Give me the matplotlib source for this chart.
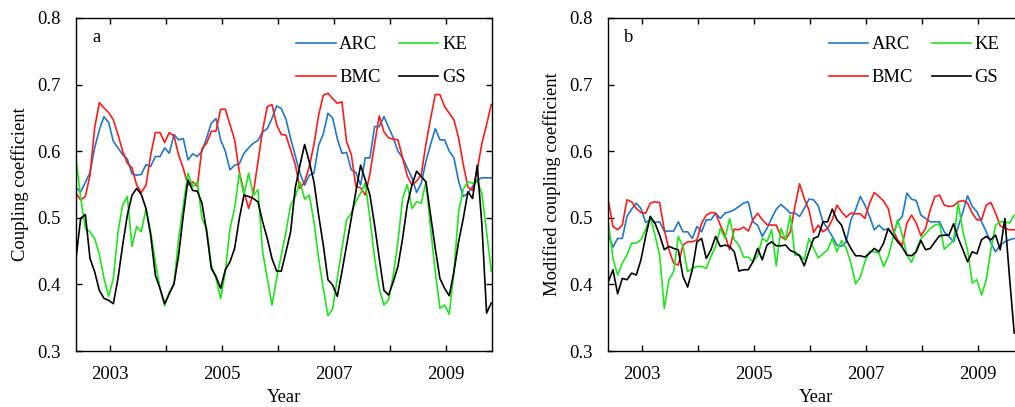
import numpy as np
import matplotlib
matplotlib.use('Agg')
import matplotlib.pyplot as plt
from matplotlib.ticker import MultipleLocator, FixedLocator, FormatStrFormatter

plt.rcParams['font.family'] = ['Liberation Serif', 'DejaVu Serif']
plt.rcParams['font.size'] = 13.4

### monthly values, first month at 2002.4
start_year = 2002.4

arc_a = [0.545, 0.539, 0.553, 0.568, 0.605, 0.632, 0.652, 0.643, 0.615, 0.605,
         0.595, 0.588, 0.566, 0.564, 0.565, 0.580, 0.577, 0.592, 0.592, 0.605,
         0.597, 0.625, 0.617, 0.619, 0.587, 0.596, 0.592, 0.600, 0.620, 0.642,
         0.649, 0.617, 0.600, 0.572, 0.579, 0.581, 0.597, 0.605, 0.612, 0.616,
         0.629, 0.634, 0.649, 0.668, 0.664, 0.648, 0.619, 0.593, 0.567, 0.549,
         0.564, 0.567, 0.609, 0.626, 0.657, 0.650, 0.619, 0.597, 0.598, 0.572,
         0.568, 0.549, 0.590, 0.590, 0.637, 0.637, 0.652, 0.636, 0.620, 0.600,
         0.590, 0.575, 0.560, 0.538, 0.552, 0.585, 0.610, 0.634, 0.617, 0.617,
         0.600, 0.590, 0.555, 0.532, 0.537, 0.547, 0.557, 0.560, 0.560, 0.560]
bmc_a = [0.537, 0.527, 0.532, 0.564, 0.635, 0.673, 0.665, 0.658, 0.647, 0.625,
         0.600, 0.582, 0.575, 0.549, 0.538, 0.549, 0.594, 0.628, 0.628, 0.613,
         0.628, 0.623, 0.594, 0.574, 0.549, 0.554, 0.547, 0.604, 0.612, 0.630,
         0.630, 0.663, 0.663, 0.640, 0.617, 0.569, 0.539, 0.514, 0.537, 0.584,
         0.632, 0.667, 0.670, 0.640, 0.625, 0.624, 0.602, 0.580, 0.544, 0.554,
         0.577, 0.610, 0.654, 0.684, 0.687, 0.679, 0.672, 0.674, 0.614, 0.595,
         0.547, 0.545, 0.534, 0.566, 0.611, 0.653, 0.629, 0.620, 0.618, 0.617,
         0.590, 0.563, 0.549, 0.555, 0.565, 0.611, 0.649, 0.685, 0.685, 0.667,
         0.657, 0.647, 0.620, 0.580, 0.546, 0.541, 0.572, 0.612, 0.640, 0.670]
ke_a = [0.589, 0.530, 0.484, 0.479, 0.469, 0.445, 0.409, 0.382, 0.409, 0.479,
        0.519, 0.532, 0.457, 0.487, 0.479, 0.514, 0.479, 0.434, 0.394, 0.368,
        0.389, 0.399, 0.469, 0.519, 0.567, 0.547, 0.554, 0.499, 0.484, 0.429,
        0.409, 0.379, 0.419, 0.484, 0.514, 0.567, 0.534, 0.567, 0.534, 0.542,
        0.449, 0.409, 0.369, 0.409, 0.444, 0.479, 0.519, 0.532, 0.554, 0.528,
        0.534, 0.494, 0.439, 0.394, 0.353, 0.363, 0.409, 0.454, 0.497, 0.507,
        0.525, 0.537, 0.552, 0.499, 0.439, 0.394, 0.369, 0.377, 0.414, 0.464,
        0.529, 0.550, 0.514, 0.524, 0.522, 0.554, 0.484, 0.419, 0.364, 0.369,
        0.355, 0.419, 0.509, 0.543, 0.554, 0.552, 0.554, 0.537, 0.479, 0.420]
gs_a = [0.439, 0.499, 0.505, 0.439, 0.419, 0.391, 0.379, 0.376, 0.371, 0.409,
        0.459, 0.504, 0.534, 0.544, 0.535, 0.514, 0.474, 0.414, 0.394, 0.371,
        0.386, 0.401, 0.444, 0.504, 0.557, 0.541, 0.540, 0.522, 0.479, 0.424,
        0.412, 0.394, 0.422, 0.434, 0.454, 0.499, 0.534, 0.532, 0.529, 0.524,
        0.494, 0.469, 0.439, 0.420, 0.420, 0.449, 0.479, 0.545, 0.579, 0.610,
        0.584, 0.554, 0.504, 0.459, 0.407, 0.399, 0.382, 0.419, 0.459, 0.499,
        0.540, 0.579, 0.557, 0.534, 0.489, 0.439, 0.391, 0.384, 0.404, 0.427,
        0.469, 0.519, 0.549, 0.570, 0.562, 0.554, 0.504, 0.454, 0.409, 0.394,
        0.383, 0.419, 0.464, 0.499, 0.539, 0.529, 0.579, 0.489, 0.357, 0.372]

arc_b = [0.474, 0.456, 0.469, 0.469, 0.502, 0.513, 0.522, 0.514, 0.493, 0.497,
         0.493, 0.494, 0.480, 0.480, 0.480, 0.494, 0.479, 0.479, 0.469, 0.487,
         0.479, 0.497, 0.497, 0.507, 0.499, 0.507, 0.509, 0.512, 0.517, 0.522,
         0.524, 0.494, 0.489, 0.472, 0.484, 0.499, 0.513, 0.520, 0.514, 0.507,
         0.507, 0.502, 0.514, 0.528, 0.527, 0.518, 0.494, 0.484, 0.472, 0.459,
         0.457, 0.464, 0.497, 0.512, 0.532, 0.519, 0.502, 0.482, 0.489, 0.482,
         0.483, 0.474, 0.494, 0.502, 0.537, 0.528, 0.526, 0.504, 0.499, 0.494,
         0.494, 0.494, 0.479, 0.472, 0.464, 0.487, 0.509, 0.533, 0.517, 0.509,
         0.494, 0.479, 0.462, 0.449, 0.459, 0.464, 0.467, 0.469]
bmc_b = [0.526, 0.487, 0.482, 0.489, 0.527, 0.524, 0.514, 0.508, 0.507, 0.522,
         0.524, 0.523, 0.482, 0.452, 0.432, 0.429, 0.459, 0.464, 0.464, 0.467,
         0.492, 0.504, 0.508, 0.507, 0.489, 0.474, 0.452, 0.483, 0.482, 0.486,
         0.480, 0.497, 0.507, 0.497, 0.490, 0.489, 0.489, 0.472, 0.467, 0.479,
         0.517, 0.551, 0.529, 0.512, 0.478, 0.489, 0.479, 0.484, 0.497, 0.519,
         0.509, 0.501, 0.507, 0.506, 0.506, 0.499, 0.522, 0.538, 0.532, 0.525,
         0.514, 0.482, 0.467, 0.459, 0.492, 0.504, 0.492, 0.473, 0.484, 0.512,
         0.532, 0.534, 0.519, 0.517, 0.518, 0.524, 0.526, 0.522, 0.507, 0.497,
         0.497, 0.519, 0.523, 0.507, 0.488, 0.484, 0.482, 0.482]
ke_b = [0.494, 0.439, 0.414, 0.432, 0.444, 0.462, 0.462, 0.467, 0.482, 0.502,
        0.474, 0.444, 0.364, 0.407, 0.419, 0.472, 0.457, 0.419, 0.424, 0.427,
        0.427, 0.424, 0.442, 0.457, 0.484, 0.469, 0.499, 0.467, 0.459, 0.441,
        0.441, 0.434, 0.443, 0.469, 0.464, 0.482, 0.428, 0.484, 0.467, 0.504,
        0.444, 0.444, 0.437, 0.469, 0.454, 0.440, 0.446, 0.452, 0.469, 0.449,
        0.466, 0.454, 0.432, 0.401, 0.411, 0.434, 0.449, 0.449, 0.447, 0.427,
        0.442, 0.469, 0.497, 0.474, 0.444, 0.433, 0.452, 0.469, 0.476, 0.484,
        0.489, 0.491, 0.453, 0.459, 0.466, 0.522, 0.479, 0.452, 0.402, 0.407,
        0.384, 0.407, 0.452, 0.489, 0.494, 0.494, 0.492, 0.504]
gs_b = [0.404, 0.422, 0.386, 0.409, 0.407, 0.417, 0.414, 0.437, 0.472, 0.502,
        0.492, 0.474, 0.452, 0.457, 0.454, 0.452, 0.412, 0.396, 0.422, 0.464,
        0.469, 0.439, 0.452, 0.472, 0.457, 0.459, 0.457, 0.449, 0.420, 0.422,
        0.422, 0.434, 0.454, 0.437, 0.459, 0.464, 0.458, 0.458, 0.459, 0.451,
        0.448, 0.443, 0.428, 0.449, 0.469, 0.472, 0.494, 0.494, 0.513, 0.497,
        0.489, 0.467, 0.454, 0.443, 0.443, 0.441, 0.447, 0.454, 0.449, 0.462,
        0.484, 0.474, 0.464, 0.456, 0.444, 0.443, 0.449, 0.466, 0.452, 0.454,
        0.464, 0.473, 0.474, 0.474, 0.491, 0.469, 0.452, 0.434, 0.449, 0.446,
        0.467, 0.472, 0.467, 0.474, 0.452, 0.499, 0.410, 0.327]

names = ['ARC', 'BMC', 'KE', 'GS']
colors = {'ARC': '#1f78c8', 'BMC': '#ff1a1a', 'KE': '#1ee61e', 'GS': 'black'}
year_labels = [2003, 2005, 2007, 2009]


def months(values):
    return start_year + np.arange(len(values)) / 12.0


fig = plt.figure(figsize=(10.15, 4.07), dpi=100)
ax_a = fig.add_axes([76 / 1015, 56 / 407, 416 / 1015, 333 / 407])
ax_b = fig.add_axes([608.3 / 1015, 56 / 407, 416 / 1015, 333 / 407])

panels = [
    (ax_a, {'ARC': arc_a, 'BMC': bmc_a, 'KE': ke_a, 'GS': gs_a}, 'a', 'Coupling coefficient'),
    (ax_b, {'ARC': arc_b, 'BMC': bmc_b, 'KE': ke_b, 'GS': gs_b}, 'b', 'Modified coupling coefficient'),
]

for ax, data, tag, ylab in panels:
    for n in names:
        ax.plot(months(data[n]), data[n], color=colors[n], lw=1.2, label=n)
    ax.set_xlim(2002.4, 2009.83)
    ax.set_ylim(0.3, 0.8)
    ax.xaxis.set_major_locator(FixedLocator(year_labels))
    ax.xaxis.set_minor_locator(MultipleLocator(1))
    ax.yaxis.set_major_locator(MultipleLocator(0.1))
    ax.yaxis.set_major_formatter(FormatStrFormatter('%.1f'))
    ax.tick_params(which='both', direction='in', top=True, right=True, length=4.5, width=1, pad=11)
    for s in ax.spines.values():
        s.set_linewidth(1.0)
    ax.set_xlabel('Year', labelpad=4)
    ax.set_ylabel(ylab, labelpad=6)
    ax.text(0.05, 0.94, tag, transform=ax.transAxes, ha='center', va='center')
    ax.legend(ncol=2, frameon=False,
              loc='upper left', bbox_to_anchor=(0.53, 0.945), borderpad=0, borderaxespad=0,
              handlelength=2.1, handletextpad=0.2, columnspacing=1.0, labelspacing=0.85)

fig.savefig('out.png', dpi=100)
